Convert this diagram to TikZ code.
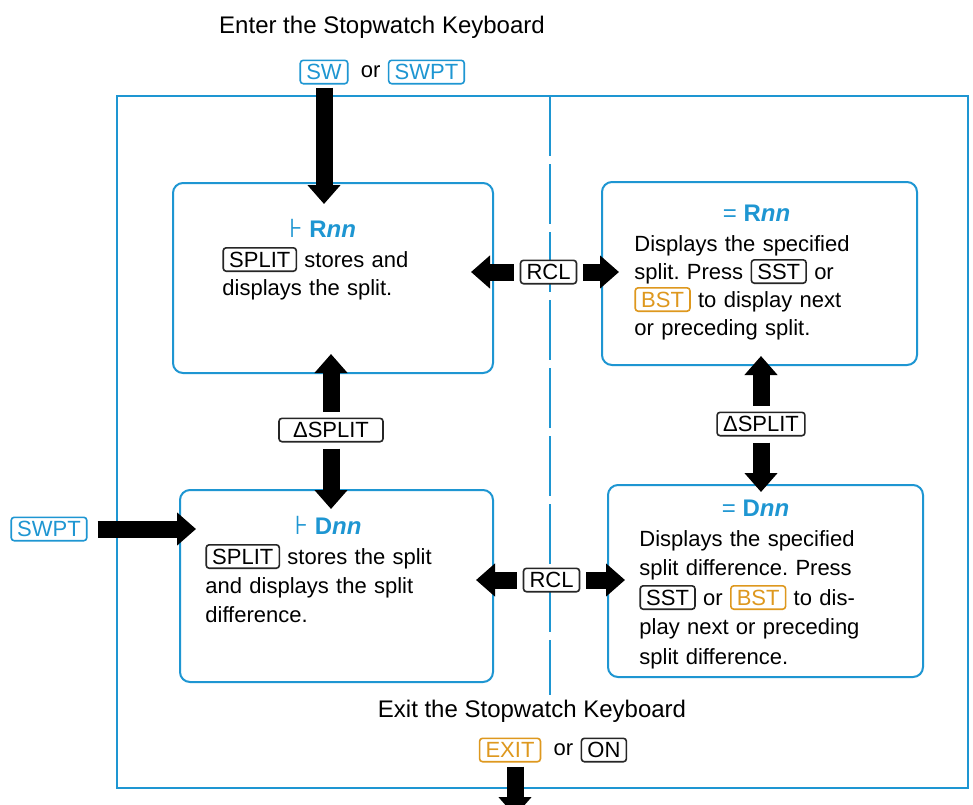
\documentclass[tikz,border=0pt]{standalone}
\usepackage{fontspec}
\setmainfont{Liberation Sans}
\newfontfamily\symfont{DejaVu Sans}
\usepackage{tikz}
\usetikzlibrary{
	arrows.meta,
	positioning
}
\usepackage{xcolor}
\frenchspacing

\definecolor{swblue}{RGB}{30,150,210}
\definecolor{keyorange}{RGB}{222,152,30}

\tikzset{
	keycap/.style={draw=black!85,fill=white,rounded corners=1.5pt,line width=0.8pt,
		inner xsep=3pt,inner ysep=1.9pt,text height=7.9pt,text depth=0pt,
		font=\fontsize{11}{13}\selectfont},
	keyblue/.style={keycap,draw=swblue,text=swblue},
	keyorange/.style={keycap,draw=keyorange,text=keyorange},
	panel/.style={draw=swblue,line width=1pt,rounded corners=5pt,inner sep=0pt},
	paneltitle/.style={inner sep=0pt,text height=8pt,text depth=0pt,text=swblue,
		font=\fontsize{12}{14}\selectfont\bfseries},
	paneltext/.style={inner sep=0pt,text width=150pt,align=left,anchor=north west,
		font=\fontsize{11}{14}\selectfont},
	plain/.style={inner sep=0pt,font=\fontsize{11}{13}\selectfont},
	heading/.style={inner sep=0pt,font=\fontsize{12}{14}\selectfont},
	bigarrow/.style={line width=8.5pt,-{Triangle[width=16pt,length=9.5pt]}}
}

\newcommand{\keyin}[2][keycap]{\tikz[baseline=(k.base)]\node[#1](k){#2};}
\newcommand{\tack}{{\symfont\mdseries\fontsize{13}{14}\selectfont ⊦}}
\newcommand{\dashes}{{\mdseries\fontsize{12}{14}\selectfont =}}
\newcommand{\firstline}{\rule{0pt}{11pt}}

\begin{document}
\begin{tikzpicture}[x=0.5pt,y=-0.5pt]
	\useasboundingbox[fill=white] (0,0) rectangle (973,804);
	
	%---------------- frame ----------------%
	
	\draw[swblue,line width=1.2pt] (117,96) rectangle (968,788);
	\coordinate (midtop) at (550,96);
	\coordinate (midbot) at (550,695);
	\draw[swblue,line width=0.9pt,dash pattern=on 30pt off 4pt] (midtop) -- (midbot);
	
	%---------------- entering ----------------%
	
	\node[heading] (enter) at (382,27) {Enter the Stopwatch Keyboard};
	\node[keyblue] (sw) at (324,72) {SW};
	\node[plain,right=6pt of sw] (orA) {or};
	\node[keyblue,right=3.5pt of orA] (swptA) {SWPT};
	
	\node[keyblue] (swptB) at (49,529) {SWPT};
	
	%---------------- panels ----------------%
	
	\node[panel,minimum width=160pt,minimum height=95pt] (rsplit) at (333,278) {};
	\node[paneltitle,below=19.5pt of rsplit.north,xshift=-5.25pt] (rsplitHead)
	{\tack~R\textit{nn}};
	\node[paneltext,below right=31.5pt and 25pt of rsplit.north west] (rsplitText)
	{\firstline\keyin{SPLIT} stores and\\displays the split.};
	
	\node[panel,minimum width=157.5pt,minimum height=91.5pt] (rview) at (759.5,273.5) {};
	\node[paneltitle,below=12pt of rview.north,xshift=-1.5pt] (rviewHead)
	{\dashes~R\textit{nn}};
	\node[paneltext,below right=24pt and 16.5pt of rview.north west] (rviewText)
	{\firstline Displays the specified\\split. Press \keyin{SST} or\\
		\keyin[keyorange]{BST} to display next\\or preceding split.};
	
	\node[panel,minimum width=156.5pt,minimum height=96pt] (dsplit) at (336.5,586) {};
	\node[paneltitle,below=14.5pt of dsplit.north,xshift=-4.25pt] (dsplitHead)
	{\tack~D\textit{nn}};
	\node[paneltext,font=\fontsize{11}{14.5}\selectfont,
	below right=26.5pt and 13pt of dsplit.north west] (dsplitText)
	{\firstline\keyin{SPLIT} stores the split\\and displays the split\\difference.};
	
	\node[panel,minimum width=157.5pt,minimum height=96pt] (dview) at (765.5,581) {};
	\node[paneltitle,below=8pt of dview.north,xshift=-5pt] (dviewHead)
	{\dashes~D\textit{nn}};
	\node[paneltext,font=\fontsize{11}{14.75}\selectfont,
	below right=20pt and 16pt of dview.north west] (dviewText)
	{\firstline Displays the specified\\split difference. Press\\
		\keyin{SST} or \keyin[keyorange]{BST} to dis-\\play next or preceding\\split difference.};
	
	%---------------- keys between panels ----------------%
	
	\node[keycap] (rclA) at (548.5,272) {RCL};
	\node[keycap] (rclB) at (551.5,580) {RCL};
	\node[keycap,minimum width=52pt] (deltaA) at (331,430) {ΔSPLIT};
	\node[keycap] (deltaB) at (761,424) {ΔSPLIT};
	
	%---------------- leaving ----------------%
	
	\node[heading] (leave) at (532,711) {Exit the Stopwatch Keyboard};
	\node[keyorange] (exit) at (510,750) {EXIT};
	\node[plain,right=6pt of exit] (orB) {or};
	\node[keycap,right=3.5pt of orB] (on) {ON};
	\coordinate (offpage) at (515,816);
	
	%---------------- arrows ----------------%
	
	\draw[bigarrow,shorten <=1.5pt,shorten >=-11pt] (sw) -- (sw |- rsplit.north);
	\draw[bigarrow,shorten <=5pt,shorten >=-8.5pt] (swptB) -- (swptB -| dsplit.west);
	
	\draw[bigarrow,shorten <=3pt,shorten >=-11.5pt] (rclA) -- (rclA -| rsplit.east);
	\draw[bigarrow,shorten <=3pt,shorten >=-9pt] (rclA) -- (rclA -| rview.west);
	\draw[bigarrow,shorten <=3pt,shorten >=-9pt] (rclB) -- (rclB -| dsplit.east);
	\draw[bigarrow,shorten <=3pt,shorten >=-9pt] (rclB) -- (rclB -| dview.west);
	
	\draw[bigarrow,shorten <=3pt,shorten >=-10pt] (deltaA) -- (deltaA |- rsplit.south);
	\draw[bigarrow,shorten <=3pt,shorten >=-10pt] (deltaA) -- (deltaA |- dsplit.north);
	\draw[bigarrow,shorten <=3pt,shorten >=-5pt] (deltaB) -- (deltaB |- rview.south);
	\draw[bigarrow,shorten <=3pt,shorten >=-4pt] (deltaB) -- (deltaB |- dview.north);
	
	\draw[bigarrow,shorten <=2pt] (exit.south -| offpage) -- (offpage);
	
\end{tikzpicture}
\end{document}
